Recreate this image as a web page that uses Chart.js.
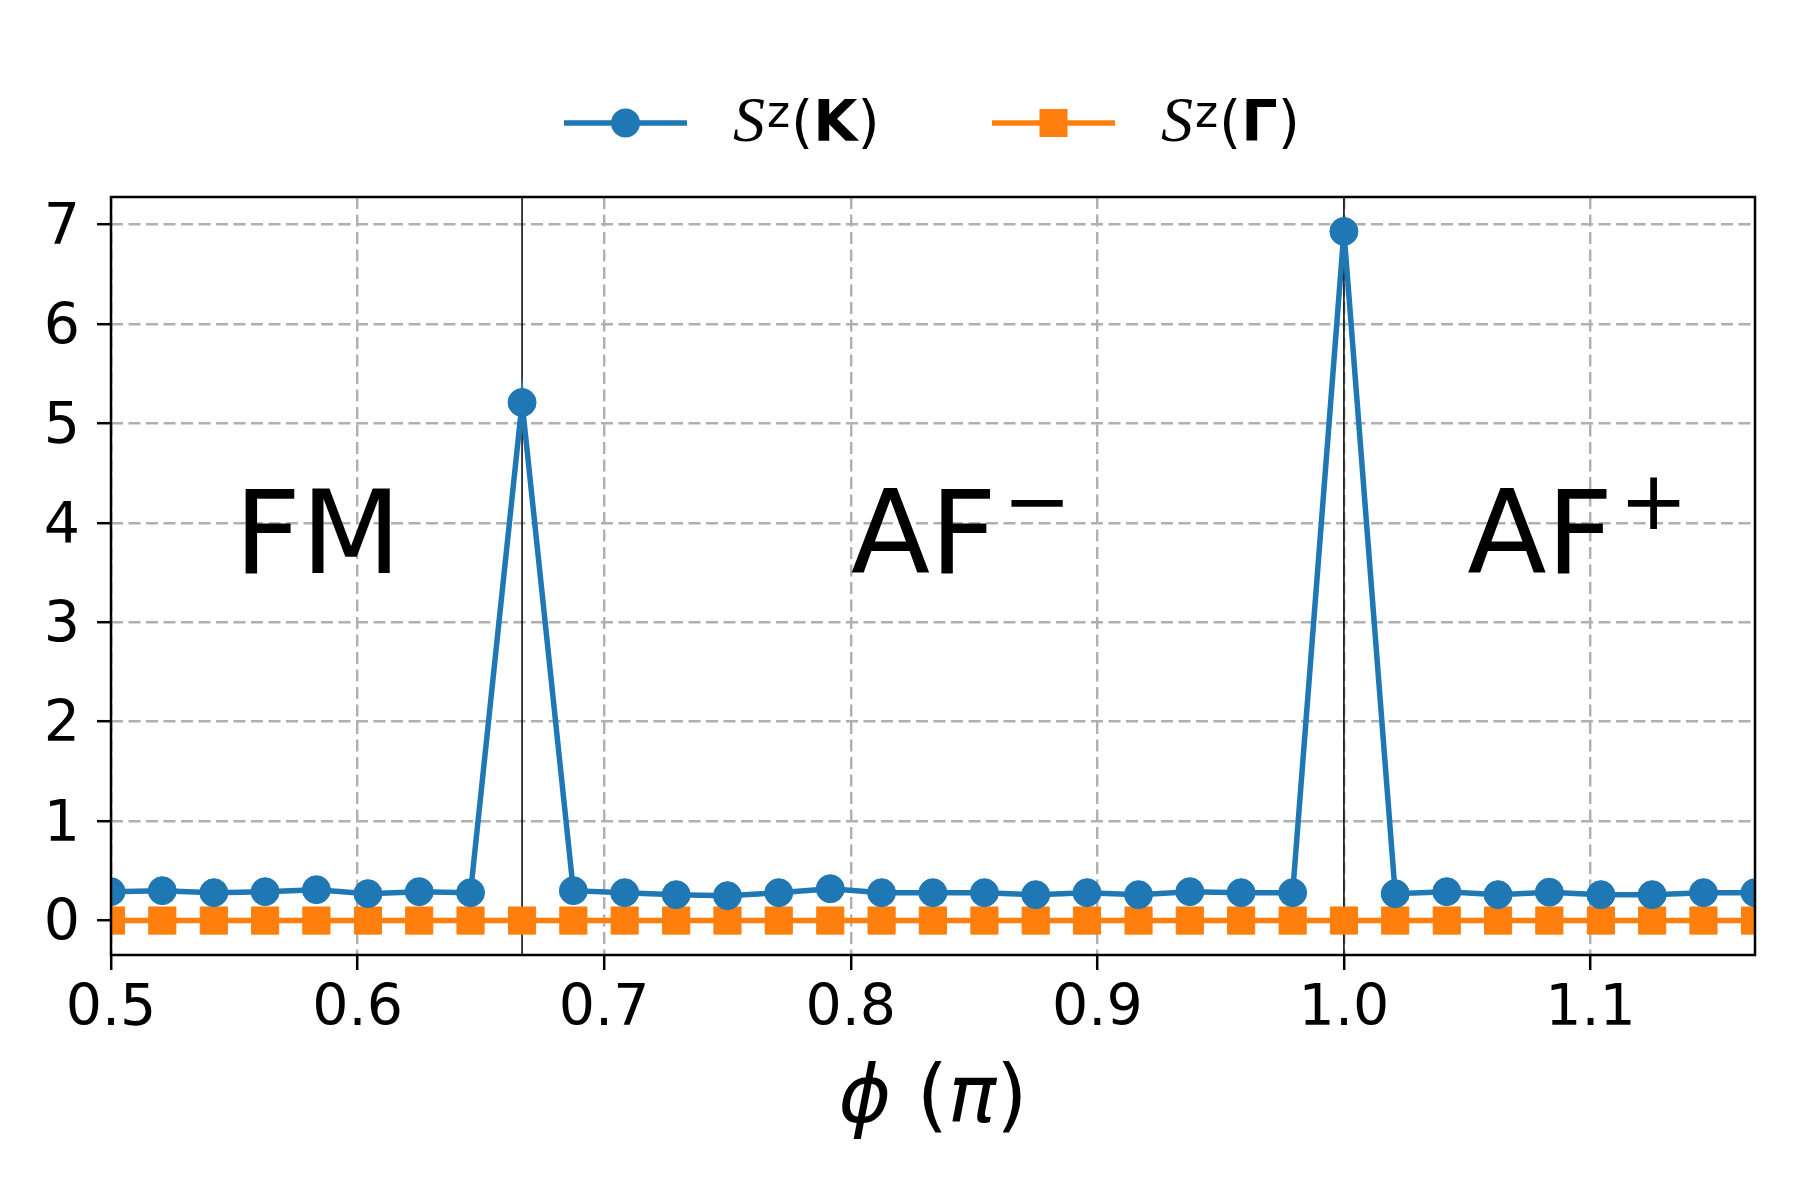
<!DOCTYPE html>
<html>
<head>
<meta charset="utf-8">
<script src="https://cdn.jsdelivr.net/npm/chart.js@4.4.1/dist/chart.umd.min.js"></script>
<style>
  html, body { margin: 0; padding: 0; background: #fff; }
  #wrap { width: 1800px; height: 1200px; }
</style>
</head>
<body>
<div id="wrap"><canvas id="c" width="1800" height="1200"></canvas></div>
<script>
// ---- data ----
const phiValues = [0.5, 0.5208, 0.5417, 0.5625, 0.5833, 0.6042, 0.625, 0.6458, 0.6667, 0.6875,
  0.7083, 0.7292, 0.75, 0.7708, 0.7917, 0.8125, 0.8333, 0.8542, 0.875, 0.8958,
  0.9167, 0.9375, 0.9583, 0.9792, 1.0, 1.0208, 1.0417, 1.0625, 1.0833, 1.1042,
  1.125, 1.1458, 1.1667];
const szK = [0.29, 0.30, 0.28, 0.29, 0.31, 0.27, 0.29, 0.28, 5.21, 0.30,
  0.28, 0.26, 0.25, 0.28, 0.32, 0.28, 0.28, 0.28, 0.26, 0.28,
  0.26, 0.29, 0.28, 0.28, 6.93, 0.27, 0.29, 0.26, 0.285, 0.26,
  0.26, 0.28, 0.28];
const szGamma = [0, 0, 0, 0, 0, 0, 0, 0, 0, 0,
  0, 0, 0, 0, 0, 0, 0, 0, 0, 0,
  0, 0, 0, 0, 0, 0, 0, 0, 0, 0,
  0, 0, 0];
const xTicks = [0.5, 0.6, 0.7, 0.8, 0.9, 1.0, 1.1];
const yTicks = [0, 1, 2, 3, 4, 5, 6, 7];
const xRange = [0.5, 1.1667];
const yRange = [-0.3465, 7.2765];
const phaseBoundaries = [0.6667, 1.0];
const phaseLabels = [
  { main: 'FM', sup: '', x: 0.55, y: 3.5 },
  { main: 'AF', sup: '\u2212', x: 0.80, y: 3.5 },
  { main: 'AF', sup: '+', x: 1.05, y: 3.5 }
];
const seriesNames = ['K', '\u0393'];
// x-axis title pieces: [text, italic?]
const xTitleParts = [['\u03d5', true], [' ', false], ['(', false], ['\u03c0', true], [')', false]];

const BLUE = '#1f77b4', ORANGE = '#ff7f0e';

const toXY = (xs, ys) => xs.map((x, i) => ({ x: x, y: ys[i] }));

const overlay = {
  id: 'overlay',
  beforeDatasetsDraw(chart) {
    const { ctx, chartArea: a, scales: { x } } = chart;
    ctx.save();
    ctx.strokeStyle = '#000';
    ctx.lineWidth = 1.5;
    phaseBoundaries.forEach(v => {
      const px = x.getPixelForValue(v);
      ctx.beginPath();
      ctx.moveTo(px, a.top);
      ctx.lineTo(px, a.bottom);
      ctx.stroke();
    });
    ctx.restore();
  },
  afterDatasetsDraw(chart) {
    const { ctx, scales: { x, y } } = chart;
    ctx.save();
    ctx.fillStyle = '#000';
    ctx.textBaseline = 'alphabetic';
    ctx.textAlign = 'left';
    phaseLabels.forEach(l => {
      const px = x.getPixelForValue(l.x);
      const py = y.getPixelForValue(l.y);
      ctx.font = '116px "DejaVu Sans"';
      ctx.fillText(l.main, px, py);
      if (l.sup) {
        const w = ctx.measureText(l.main).width;
        ctx.font = '82px "DejaVu Sans"';
        ctx.fillText(l.sup, px + w + 6, py - 44);
      }
    });
    ctx.restore();
  },
  afterDraw(chart) {
    const { ctx, chartArea: a } = chart;
    ctx.save();
    // spines
    ctx.strokeStyle = '#000';
    ctx.lineWidth = 2.5;
    ctx.strokeRect(a.left, a.top, a.right - a.left, a.bottom - a.top);

    // x axis title
    ctx.fillStyle = '#000';
    ctx.textAlign = 'left';
    ctx.textBaseline = 'alphabetic';
    const fontFor = it => (it ? 'oblique ' : '') + '80px "DejaVu Sans"';
    let total = 0;
    xTitleParts.forEach(p => { ctx.font = fontFor(p[1]); total += ctx.measureText(p[0]).width; });
    let tx = (a.left + a.right) / 2 - total / 2;
    xTitleParts.forEach(p => {
      ctx.font = fontFor(p[1]);
      ctx.fillText(p[0], tx, a.bottom + 167);
      tx += ctx.measureText(p[0]).width;
    });

    // legend
    const entries = [
      { color: BLUE, style: 'circle', x0: 564, tx: 733, name: seriesNames[0] },
      { color: ORANGE, style: 'rect', x0: 992, tx: 1161, name: seriesNames[1] }
    ];
    const ly = 123;
    entries.forEach(e => {
      ctx.strokeStyle = e.color;
      ctx.lineWidth = 5.5;
      ctx.beginPath();
      ctx.moveTo(e.x0, ly);
      ctx.lineTo(e.x0 + 123, ly);
      ctx.stroke();
      ctx.fillStyle = e.color;
      const cx = e.x0 + 61.5;
      if (e.style === 'circle') {
        ctx.beginPath();
        ctx.arc(cx, ly, 14.5, 0, Math.PI * 2);
        ctx.fill();
      } else {
        ctx.fillRect(cx - 14, ly - 14, 28, 28);
      }
      ctx.fillStyle = '#000';
      ctx.textAlign = 'left';
      ctx.textBaseline = 'alphabetic';
      let lx = e.tx;
      const base = 141;
      ctx.font = 'italic 64px "Liberation Serif"';
      ctx.fillText('S', lx, base);
      lx += ctx.measureText('S').width + 2;
      ctx.font = '44px "DejaVu Sans"';
      ctx.fillText('z', lx, base - 14);
      lx += ctx.measureText('z').width + 1;
      ctx.font = '57px "DejaVu Sans"';
      ctx.fillText('(', lx, base);
      lx += ctx.measureText('(').width;
      ctx.font = 'bold 57px "DejaVu Sans"';
      ctx.fillText(e.name, lx, base);
      lx += ctx.measureText(e.name).width;
      ctx.font = '57px "DejaVu Sans"';
      ctx.fillText(')', lx, base);
    });
    ctx.restore();
  }
};

new Chart(document.getElementById('c'), {
  type: 'line',
  data: {
    datasets: [
      {
        label: 'S^z(K)',
        data: toXY(phiValues, szK),
        borderColor: BLUE,
        backgroundColor: BLUE,
        borderWidth: 5.5,
        pointStyle: 'circle',
        pointRadius: 14,
        pointBorderWidth: 1,
        pointBackgroundColor: BLUE,
        pointBorderColor: BLUE,
        tension: 0,
        clip: 0
      },
      {
        label: 'S^z(\u0393)',
        data: toXY(phiValues, szGamma),
        borderColor: ORANGE,
        backgroundColor: ORANGE,
        borderWidth: 5.5,
        pointStyle: 'rect',
        pointRadius: 19.2,
        pointBorderWidth: 1,
        pointBackgroundColor: ORANGE,
        pointBorderColor: ORANGE,
        tension: 0,
        clip: 0
      }
    ]
  },
  options: {
    responsive: false,
    animation: false,
    devicePixelRatio: 1,
    layout: { padding: { top: 197, right: 45, left: 0, bottom: 0 } },
    plugins: { legend: { display: false }, tooltip: { enabled: false } },
    scales: {
      x: {
        type: 'linear',
        min: xRange[0],
        max: xRange[1],
        afterBuildTicks: s => { s.ticks = xTicks.map(v => ({ value: v })); },
        afterFit: s => { s.height = 245; },
        ticks: {
          color: '#000',
          font: { family: 'DejaVu Sans', size: 57 },
          padding: 6,
          maxRotation: 0,
          autoSkip: false,
          callback: v => Number(v).toFixed(1)
        },
        grid: {
          color: '#b0b0b0',
          lineWidth: 2.4,
          tickColor: '#000',
          tickWidth: 2.5,
          tickLength: 15
        },
        border: { display: false, dash: [12, 5.5] }
      },
      y: {
        type: 'linear',
        min: yRange[0],
        max: yRange[1],
        afterBuildTicks: s => { s.ticks = yTicks.map(v => ({ value: v })); },
        afterFit: s => { s.width = 111; },
        ticks: {
          color: '#000',
          font: { family: 'DejaVu Sans', size: 57 },
          padding: 17,
          labelOffset: 5,
          autoSkip: false,
          callback: v => String(v)
        },
        grid: {
          color: '#b0b0b0',
          lineWidth: 2.4,
          tickColor: '#000',
          tickWidth: 2.5,
          tickLength: 14
        },
        border: { display: false, dash: [12, 5.5] }
      }
    }
  },
  plugins: [overlay]
});
</script>
</body>
</html>
